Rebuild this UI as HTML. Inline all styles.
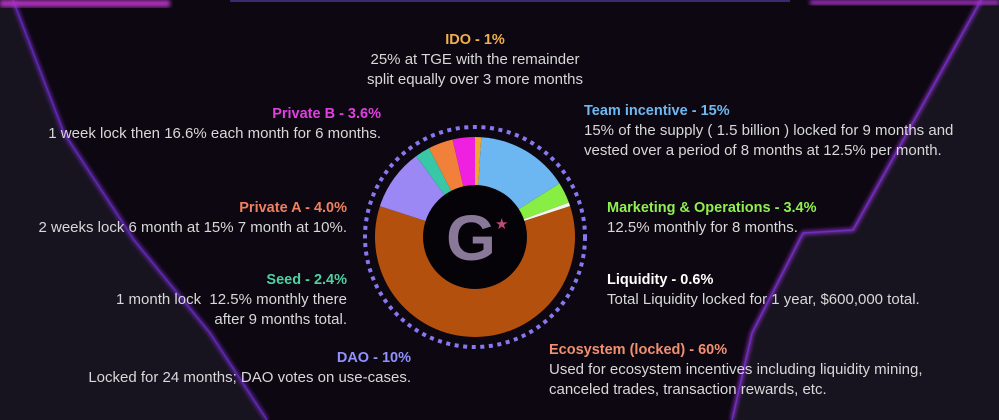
<!DOCTYPE html>
<html><head><meta charset="utf-8"><style>
html,body{margin:0;padding:0;background:#07050a;}
#wrap{position:relative;width:999px;height:420px;overflow:hidden;font-family:"Liberation Sans",sans-serif;}
svg{position:absolute;left:0;top:0}
.t{position:absolute;font-size:15px;line-height:20px;color:#d8d8d8;white-space:nowrap}
.h{font-weight:bold;font-size:14.5px}
.r{text-align:right}
.c{text-align:center}
</style></head><body>
<div id="wrap">
<svg width="999" height="420">
<defs>
<filter id="glow"><feGaussianBlur stdDeviation="2"/></filter>
</defs>
<rect width="999" height="420" fill="#06050a"/>
<polygon points="0,0 13,0 64,133 121,220 134,240 210,333 267,420 0,420" fill="#17141f"/>
<polygon points="999,0 981,0 892,160 853,230 803,233 752,333 732,420 999,420" fill="#17141f"/>
<polygon points="13,0 981,0 892,160 853,230 803,233 752,333 732,420 267,420 210,333 134,240 121,220 64,133" fill="#0c0710"/>
<polyline points="13,0 64,133 121,220 134,240 210,333 267,420" fill="none" stroke="#7a2ad0" stroke-width="3" filter="url(#glow)"/>
<polyline points="13,0 64,133 121,220 134,240 210,333 267,420" fill="none" stroke="#5a2ab0" stroke-width="1.5"/>
<polyline points="981,0 892,160 853,230 803,233 752,333 732,420" fill="none" stroke="#a030e0" stroke-width="3" filter="url(#glow)"/>
<polyline points="981,0 892,160 853,230 803,233 752,333 732,420" fill="none" stroke="#6a30c0" stroke-width="1.5"/>
<rect x="0" y="0" width="170" height="7" fill="#b030c0" filter="url(#glow)"/>
<rect x="810" y="0" width="189" height="5" fill="#a030c0" filter="url(#glow)"/>
<rect x="230" y="0" width="560" height="2" fill="#3a2a70"/>
<g id="pie"></g>
</svg>
<div class="t c" style="left:275px;width:400px;top:30px"><span class="h" style="color:#f0b050">IDO - 1%</span><br>25% at TGE with the remainder<br>split equally over 3 more months</div>
<div class="t r" style="right:618px;top:104px"><span class="h" style="color:#e040e0">Private B - 3.6%</span><br>1 week lock then 16.6% each month for 6 months.</div>
<div class="t" style="left:584px;top:101px"><span class="h" style="color:#70b8f0">Team incentive - 15%</span><br>15% of the supply ( 1.5 billion ) locked for 9 months and<br>vested over a period of 8 months at 12.5% per month.</div>
<div class="t r" style="right:652px;top:198px"><span class="h" style="color:#f08060">Private A - 4.0%</span><br>2 weeks lock 6 month at 15% 7 month at 10%.</div>
<div class="t" style="left:607px;top:198px"><span class="h" style="color:#90f050">Marketing &amp; Operations - 3.4%</span><br>12.5% monthly for 8 months.</div>
<div class="t r" style="right:652px;top:270px"><span class="h" style="color:#50d0a0">Seed - 2.4%</span><br>1 month lock&nbsp; 12.5% monthly there<br>after 9 months total.</div>
<div class="t" style="left:607px;top:270px"><span class="h" style="color:#ffffff">Liquidity - 0.6%</span><br>Total Liquidity locked for 1 year, $600,000 total.</div>
<div class="t r" style="right:588px;top:348px"><span class="h" style="color:#9090ff">DAO - 10%</span><br>Locked for 24 months; DAO votes on use-cases.</div>
<div class="t" style="left:549px;top:340px"><span class="h" style="color:#f09070">Ecosystem (locked) - 60%</span><br>Used for ecosystem incentives including liquidity mining,<br>canceled trades, transaction rewards, etc.</div>
</div>
<script>
const categories=["IDO","Team incentive","Marketing & Operations","Liquidity","Ecosystem","DAO","Seed","Private A","Private B"];
const shares=[1,15,3.4,0.6,60,10,2.4,4.0,3.6];
const colors=["#f0a830","#6cb6f2","#88ee44","#f4f4ee","#b4500e","#9c88f4","#38c8a8","#f0803a","#f020e0"];
const NS="http://www.w3.org/2000/svg";
const g=document.getElementById('pie');
const cx=475,cy=237,R=100;
const total=shares.reduce((a,b)=>a+b,0);
function pt(a,rad){return [cx+rad*Math.sin(a),cy-rad*Math.cos(a)];}
let a=0;
shares.forEach((v,i)=>{
  const a1=a+v/total*2*Math.PI;
  const p0=pt(a,R),p1=pt(a1,R);
  const large=(a1-a)>Math.PI?1:0;
  const path=document.createElementNS(NS,'path');
  path.setAttribute('d',`M${cx},${cy} L${p0[0]},${p0[1]} A${R},${R} 0 ${large} 1 ${p1[0]},${p1[1]} Z`);
  path.setAttribute('fill',colors[i]);
  
  
  g.appendChild(path);
  a=a1;
});
const ring=document.createElementNS(NS,'circle');
ring.setAttribute('cx',cx);ring.setAttribute('cy',cy);ring.setAttribute('r',110);
ring.setAttribute('fill','none');ring.setAttribute('stroke','#8878f0');ring.setAttribute('stroke-width','4');
ring.setAttribute('stroke-dasharray','4 4.6');


g.appendChild(ring);
const hole=document.createElementNS(NS,'circle');
hole.setAttribute('cx',cx);hole.setAttribute('cy',cy);hole.setAttribute('r',52);hole.setAttribute('fill','#050307');


g.appendChild(hole);
const G=document.createElementNS(NS,'text');
G.setAttribute('x',cx-4);G.setAttribute('y',cy+23);G.setAttribute('text-anchor','middle');
G.setAttribute('font-family','Liberation Sans, sans-serif');G.setAttribute('font-weight','bold');G.setAttribute('font-size','64');
G.setAttribute('fill','#8a7898');G.textContent='G';


g.appendChild(G);
const star=document.createElementNS(NS,'text');
star.setAttribute('x',cx+20);star.setAttribute('y',cy-8);star.setAttribute('font-size','15');
star.setAttribute('fill','#c04a78');star.textContent='★';


g.appendChild(star);
</script>
</body></html>
